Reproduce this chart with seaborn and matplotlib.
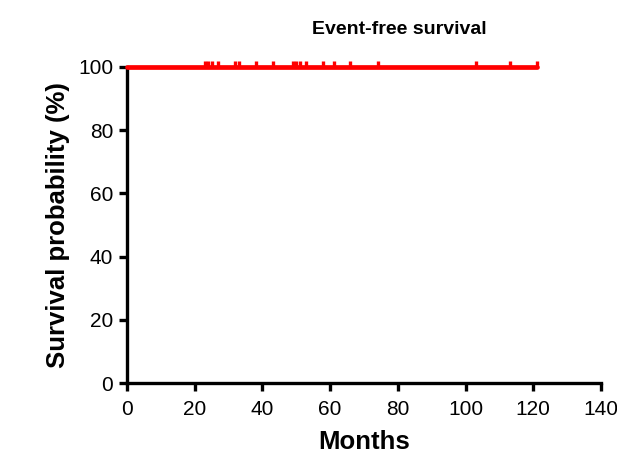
import seaborn as sns
import pandas as pd
import matplotlib.pyplot as plt

# survival curve (no events, stays at 100%)
months = [0, 121]
survival = [100, 100]

# censored patients (months)
censor_months = [23, 24, 25, 27, 32, 33, 38, 43, 49, 50, 51, 53, 58, 61, 66, 74, 103, 113, 121]
censor_surv = [100] * len(censor_months)

x_ticks = [0, 20, 40, 60, 80, 100, 120, 140]
y_ticks = [0, 20, 40, 60, 80, 100]

curve = pd.DataFrame({"Months": months, "Survival": survival})
cens = pd.DataFrame({"Months": censor_months, "Survival": censor_surv})

sns.set_style("ticks", rc={"axes.edgecolor": "black", "text.color": "black",
                           "axes.labelcolor": "black", "xtick.color": "black",
                           "ytick.color": "black"})
plt.rcParams['font.family'] = ['Liberation Sans', 'DejaVu Sans']

fig = plt.figure(figsize=(6.17, 4.55), dpi=100)
ax = fig.add_axes([0.206, 0.158, 0.768, 0.695])

sns.lineplot(x="Months", y="Survival", data=curve, color="#ff0000", linewidth=3.4,
             drawstyle="steps-post", ax=ax, clip_on=False, zorder=5)
# upward half ticks for censored cases
sns.scatterplot(x="Months", y="Survival", data=cens, marker=[(0, 0), (0, 1)],
                color="#ff0000", edgecolor="#ff0000", s=80, linewidth=2.4,
                ax=ax, clip_on=False, zorder=6)

ax.set_xlim(0, 140)
ax.set_ylim(0, 100)
ax.set_xticks(x_ticks)
ax.set_yticks(y_ticks)
sns.despine(ax=ax)
for s in ["left", "bottom"]:
    ax.spines[s].set_linewidth(2.4)
ax.tick_params(width=2.4, length=6, labelsize=15, color="black", labelcolor="black", pad=4)
ax.tick_params(axis="x", pad=6)

ax.set_xlabel("Months", fontsize=18.5, fontweight="bold", labelpad=8)
ax.set_ylabel("Survival probability (%)", fontsize=18.5, fontweight="bold", labelpad=6)
ax.set_title("Event-free survival", fontsize=14, fontweight="bold", pad=24, x=0.574)

plt.savefig("out.png", dpi=100)
